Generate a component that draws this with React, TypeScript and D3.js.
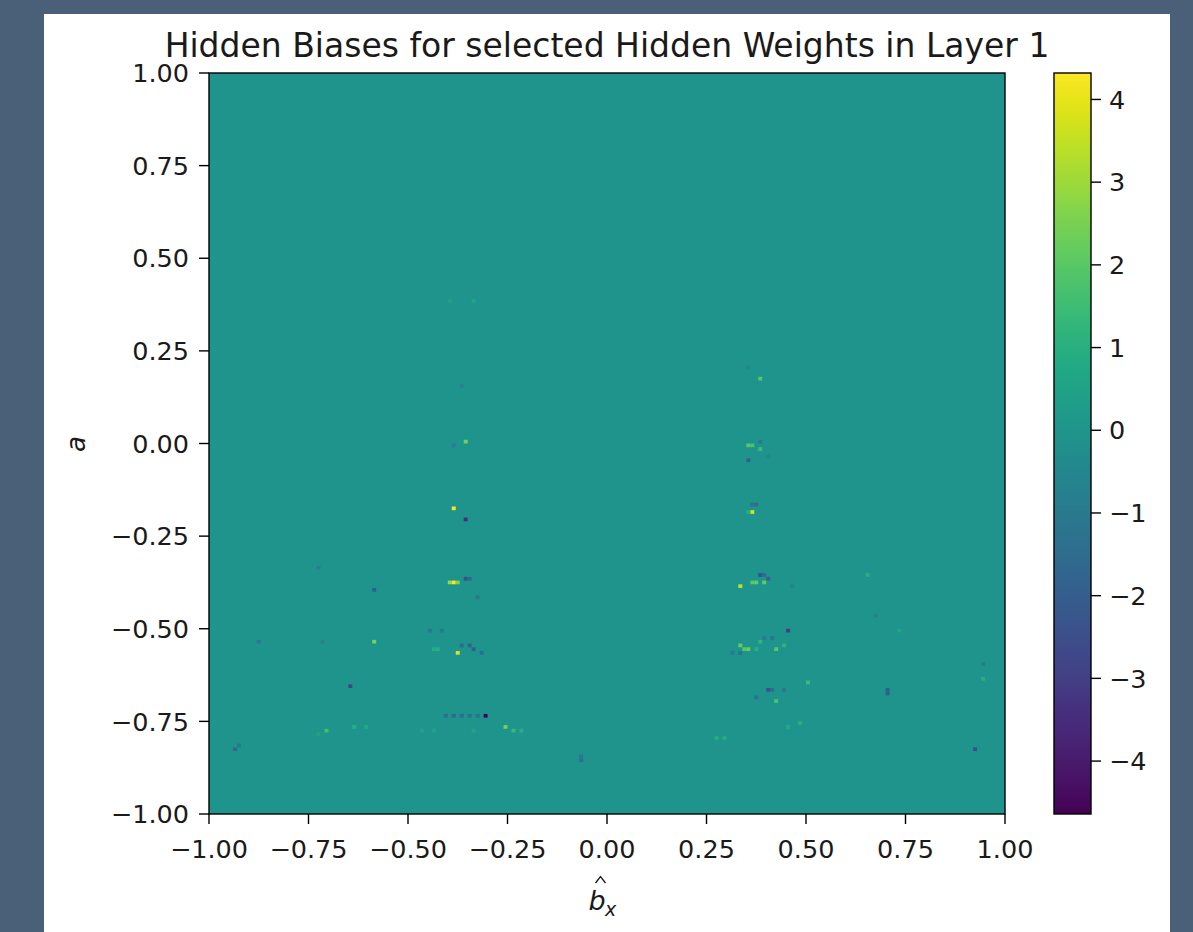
import React from "react";
import * as d3 from "d3";

// sparse cells of the 200x200 grid: [b_x, a, bias]; everything else is 0
const leftCluster: [number, number, number][] = [
  [-0.389, -0.177, 4.2], [-0.357, -0.204, -3.5], [-0.359, 0.007, 2.4], [-0.389, -0.001, -0.9],
  [-0.369, 0.155, -0.6], [-0.337, 0.385, 0.6], [-0.394, 0.385, 0.4],
  [-0.399, -0.377, 3.0], [-0.389, -0.377, 4.3], [-0.379, -0.377, 2.6],
  [-0.357, -0.366, -2.6], [-0.349, -0.366, -1.6], [-0.327, -0.414, -1.0],
  [-0.59, -0.393, -2.0], [-0.721, -0.333, -0.9], [-0.59, -0.533, 2.5],
  [-0.877, -0.533, -1.0], [-0.711, -0.533, -0.6], [-0.379, -0.565, 3.8],
  [-0.362, -0.541, -1.5], [-0.347, -0.541, -2.0], [-0.332, -0.555, -2.0], [-0.319, -0.565, -1.5],
  [-0.437, -0.555, 0.9], [-0.425, -0.555, 1.0], [-0.445, -0.506, -1.0], [-0.42, -0.506, -1.0],
  [-0.641, -0.652, -2.8], [-0.309, -0.733, -4.6],
  [-0.405, -0.733, -1.4], [-0.385, -0.733, -1.6], [-0.365, -0.733, -1.5], [-0.345, -0.733, -1.4], [-0.325, -0.733, -1.3],
  [-0.259, -0.765, 2.5], [-0.231, -0.773, 1.4], [-0.219, -0.773, 1.0],
  [-0.701, -0.773, 1.6], [-0.638, -0.765, 1.0], [-0.603, -0.765, 0.8], [-0.729, -0.789, 0.5],
  [-0.462, -0.773, 0.6], [-0.437, -0.773, 0.6], [-0.337, -0.779, 0.6],
  [-0.935, -0.822, -1.6], [-0.927, -0.814, -1.0], [-0.06, -0.857, -1.3], [-0.063, -0.849, -1.0],
];

const rightCluster: [number, number, number][] = [
  [0.382, 0.174, 2.0], [0.352, 0.206, -0.5], [0.352, -0.004, 2.0], [0.367, -0.004, 1.8],
  [0.382, 0.006, -1.0], [0.382, -0.015, 1.5], [0.352, -0.047, -2.0], [0.405, -0.036, -0.5],
  [0.362, -0.185, 3.8], [0.377, -0.166, -1.5], [0.367, -0.163, -1.2], [0.352, -0.188, 1.0],
  [0.382, -0.355, -2.5], [0.402, -0.363, -2.0], [0.392, -0.355, -1.5],
  [0.332, -0.385, 3.5], [0.364, -0.377, 2.0], [0.379, -0.377, 2.2], [0.392, -0.377, 2.2],
  [0.46, -0.387, -0.5], [0.452, -0.506, -3.0], [0.41, -0.522, -1.2], [0.392, -0.525, -1.0],
  [0.332, -0.544, 2.2], [0.342, -0.555, 2.0], [0.352, -0.555, 2.3], [0.372, -0.555, 1.0],
  [0.425, -0.555, 2.0], [0.44, -0.547, 1.2], [0.382, -0.538, 1.2],
  [0.314, -0.565, -1.0], [0.332, -0.565, -1.2],
  [0.402, -0.663, -2.5], [0.415, -0.663, -1.5], [0.44, -0.663, -1.0], [0.374, -0.684, -1.3],
  [0.425, -0.695, 1.8], [0.5, -0.644, 1.5], [0.651, -0.355, 1.0],
  [0.709, -0.668, -2.0], [0.709, -0.679, -2.0], [0.678, -0.468, -0.8],
  [0.92, -0.825, -2.5], [0.942, -0.636, 1.0], [0.94, -0.592, -0.8],
  [0.271, -0.792, 0.9], [0.291, -0.792, 0.9], [0.485, -0.754, 1.0], [0.455, -0.765, 0.8],
  [0.736, -0.506, 0.6],
];

const axisTicks = [-1, -0.75, -0.5, -0.25, 0, 0.25, 0.5, 0.75, 1];
const cbarTicks = [-4, -3, -2, -1, 0, 1, 2, 3, 4];
const vMin = -4.64;
const vMax = 4.32;
const cellSize = 0.01;

const W = 1193;
const H = 932;
const margin = { left: 209, top: 73, right: 1005, bottom: 814 };
const cbar = { left: 1054, right: 1091 };
const font = "DejaVu Sans, sans-serif";
const fmt = (v: number) => d3.format(".2f")(v).replace("-", "\u2212");

const App = () => {
  const x = d3.scaleLinear().domain([-1, 1]).range([margin.left, margin.right]);
  const y = d3.scaleLinear().domain([-1, 1]).range([margin.bottom, margin.top]);
  const color = d3.scaleSequential(d3.interpolateViridis).domain([vMin, vMax]);
  const cy = d3.scaleLinear().domain([vMin, vMax]).range([margin.bottom, margin.top]);
  const cells = leftCluster.concat(rightCluster);
  const snap = (v: number) => Math.floor((v + 1) / cellSize) * cellSize - 1;
  const cw = x(cellSize) - x(0);
  const ch = y(0) - y(cellSize);
  const stops = d3.range(0, 1.0001, 0.02);

  return (
    <svg width={W} height={H} style={{ position: "absolute", left: 0, top: 0 }} fontFamily={font}>
      <defs>
        <linearGradient id="viridis" x1="0" y1="1" x2="0" y2="0">
          {stops.map((t) => (
            <stop key={t} offset={t} stopColor={d3.interpolateViridis(t)} />
          ))}
        </linearGradient>
      </defs>
      <rect width={W} height={H} fill="#4a6079" />
      <rect x={44} y={14} width={1126} height={H - 14} fill="#ffffff" />

      <text x={(margin.left + margin.right) / 2} y={57} textAnchor="middle" fontSize={33} fill="#1a1a1a">
        Hidden Biases for selected Hidden Weights in Layer 1
      </text>

      {/* heatmap */}
      <rect x={margin.left} y={margin.top} width={margin.right - margin.left}
        height={margin.bottom - margin.top} fill={color(0)} />
      {cells.map(([bx, a, v], i) => (
        <rect key={i} x={x(snap(bx))} y={y(snap(a) + cellSize)} width={cw} height={ch} fill={color(v)} />
      ))}
      <rect x={margin.left} y={margin.top} width={margin.right - margin.left}
        height={margin.bottom - margin.top} fill="none" stroke="#000" strokeWidth={1.4} />

      {/* y axis */}
      {axisTicks.map((t) => (
        <g key={"y" + t}>
          <line x1={margin.left - 10} x2={margin.left} y1={y(t)} y2={y(t)} stroke="#000" strokeWidth={1.4} />
          <text x={margin.left - 20} y={y(t)} dy="0.36em" textAnchor="end" fontSize={25.5} fill="#1a1a1a">
            {fmt(t)}
          </text>
        </g>
      ))}
      {/* x axis */}
      {axisTicks.map((t) => (
        <g key={"x" + t}>
          <line x1={x(t)} x2={x(t)} y1={margin.bottom} y2={margin.bottom + 10} stroke="#000" strokeWidth={1.4} />
          <text x={x(t)} y={858} textAnchor="middle" fontSize={25.5} fill="#1a1a1a">
            {fmt(t)}
          </text>
        </g>
      ))}

      {/* axis labels */}
      <text transform="translate(85,444) rotate(-90)" textAnchor="middle" fontSize={26}
        fontStyle="italic" fill="#1a1a1a">a</text>
      <g fill="#1a1a1a" fontStyle="italic">
        <text x={597} y={910} textAnchor="middle" fontSize={27}>b</text>
        <text x={605} y={916} fontSize={19}>x</text>
      </g>
      <path d="M595.5,883 L600.5,876.5 L605.5,883" fill="none" stroke="#1a1a1a" strokeWidth={1.3} />

      {/* colorbar */}
      <rect x={cbar.left} y={margin.top} width={cbar.right - cbar.left}
        height={margin.bottom - margin.top} fill="url(#viridis)" stroke="#000" strokeWidth={1.4} />
      {cbarTicks.map((t) => (
        <g key={"c" + t}>
          <line x1={cbar.right} x2={cbar.right + 10} y1={cy(t)} y2={cy(t)} stroke="#000" strokeWidth={1.4} />
          <text x={cbar.right + 18} y={cy(t)} dy="0.36em" fontSize={25.5} fill="#1a1a1a">
            {t < 0 ? "\u2212" + Math.abs(t) : t}
          </text>
        </g>
      ))}
    </svg>
  );
};

export default App;
